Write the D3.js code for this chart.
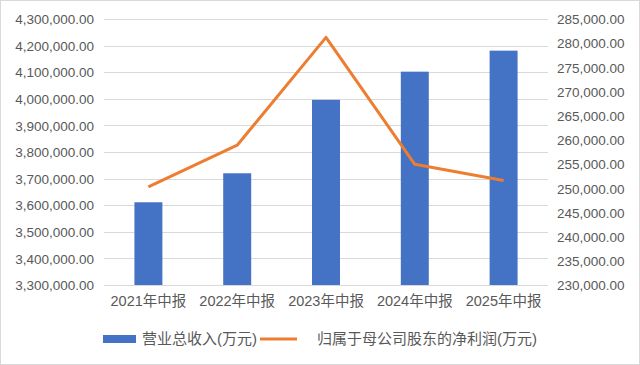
<!DOCTYPE html>
<html><head><meta charset="utf-8">
<script src="https://cdn.jsdelivr.net/npm/d3@7"></script>
<style>
html,body{margin:0;padding:0;background:#fff;}
svg{display:block;}
text{font-family:"Liberation Sans","Noto Sans CJK SC",sans-serif;fill:#595959;}
</style></head><body>
<svg id="c" width="640" height="365"></svg>
<script>
const categories = ["2021年中报","2022年中报","2023年中报","2024年中报","2025年中报"];
const revenue = [3611000, 3720000, 3996000, 4102000, 4181000];
const netProfit = [250300, 258900, 281200, 254950, 251600];
const leftTicks = [3300000,3400000,3500000,3600000,3700000,3800000,3900000,4000000,4100000,4200000,4300000];
const rightTicks = [230000,235000,240000,245000,250000,255000,260000,265000,270000,275000,280000,285000];
const seriesNames = ["营业总收入(万元)","归属于母公司股东的净利润(万元)"];

const svg = d3.select("#c");
const W=640,H=365;
svg.append("rect").attr("x",0.5).attr("y",0.5).attr("width",W-1).attr("height",H-1)
  .attr("fill","#fff").attr("stroke","#d9d9d9");

const pL=104,pR=548,pT=19,pB=285;
const x = d3.scaleBand().domain(categories).range([pL,pR]).paddingInner(0.685).paddingOuter(0.3425);
const yL = d3.scaleLinear().domain([3300000,4300000]).range([pB,pT]);
const yR = d3.scaleLinear().domain([230000,285000]).range([pB,pT]);
const fmt = d3.format(",.2f");

// gridlines
svg.append("g").selectAll("line").data(leftTicks).join("line")
  .attr("x1",pL).attr("x2",pR)
  .attr("y1",d=>Math.round(yL(d))+0.5).attr("y2",d=>Math.round(yL(d))+0.5)
  .attr("stroke","#d9d9d9").attr("stroke-width",1);

// left axis
const gl = svg.append("g").attr("transform",`translate(${pL-10},0)`)
  .call(d3.axisLeft(yL).tickValues(leftTicks).tickFormat(fmt).tickSize(0).tickPadding(0));
gl.select(".domain").remove();
gl.selectAll("text").style("font-size","13.5px").attr("fill","#595959").attr("dy","0.35em");

// right axis
const gr = svg.append("g").attr("transform",`translate(${pR+9},0)`)
  .call(d3.axisRight(yR).tickValues(rightTicks).tickFormat(fmt).tickSize(0).tickPadding(0));
gr.select(".domain").remove();
gr.selectAll("text").style("font-size","13.5px").attr("fill","#595959").attr("dy","0.35em");

// bars
svg.append("g").selectAll("rect").data(revenue).join("rect")
  .attr("x",(d,i)=>x(categories[i])).attr("width",x.bandwidth())
  .attr("y",d=>yL(d)).attr("height",d=>pB-yL(d))
  .attr("fill","#4472C4");

// x axis labels
const gx = svg.append("g").attr("transform",`translate(0,${pB})`)
  .call(d3.axisBottom(x).tickSize(0).tickPadding(11));
gx.select(".domain").remove();
gx.selectAll("text").style("font-size","14.5px").attr("fill","#595959");

// line
const line = d3.line().x((d,i)=>x(categories[i])+x.bandwidth()/2).y(d=>yR(d));
svg.append("path").datum(netProfit).attr("d",line)
  .attr("fill","none").attr("stroke","#ED7D31").attr("stroke-width",3).attr("stroke-linejoin","round");

// legend
const lg = svg.append("g");
lg.append("rect").attr("x",103).attr("y",335).attr("width",33).attr("height",8).attr("fill","#4472C4");
lg.append("text").attr("x",142).attr("y",339).attr("dy","0.35em").style("font-size","15px").text(seriesNames[0]);
lg.append("line").attr("x1",260).attr("x2",297).attr("y1",339).attr("y2",339)
  .attr("stroke","#ED7D31").attr("stroke-width",3);
lg.append("text").attr("x",317).attr("y",339).attr("dy","0.35em").style("font-size","15px").text(seriesNames[1]);
</script></body></html>
